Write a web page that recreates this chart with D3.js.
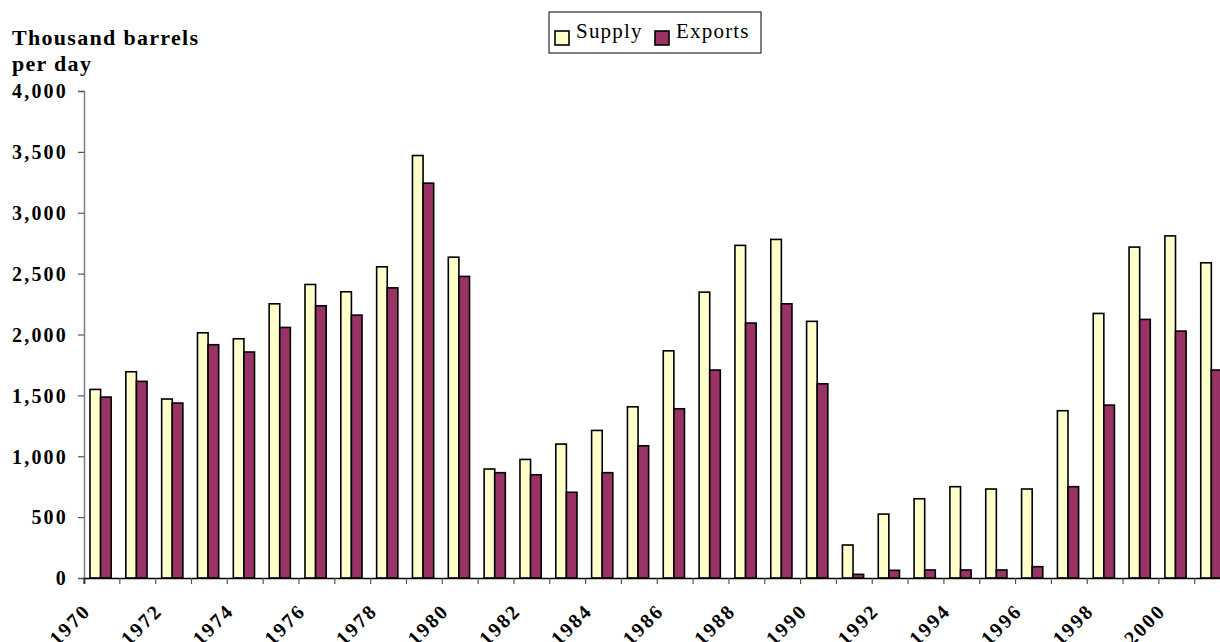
<!DOCTYPE html>
<html>
<head>
<meta charset="utf-8">
<script src="https://cdn.jsdelivr.net/npm/d3@7"></script>
<style>
  body { margin: 0; background: #fff; overflow: hidden; }
</style>
</head>
<body>
<script>
// thousand barrels per day
var years = d3.range(1970, 2002).map(String);
var supply = [1549, 1694, 1470, 2014, 1965, 2252, 2411, 2351, 2556, 3470,
              2635, 895, 974, 1100, 1212, 1406, 1866, 2348, 2732, 2781,
              2108, 271, 525, 651, 750, 731, 731, 1374, 2173, 2718,
              2810, 2589];
var exports = [1486, 1615, 1437, 1916, 1856, 2058, 2236, 2159, 2383, 3243,
               2477, 865, 848, 704, 865, 1086, 1390, 1708, 2094, 2252,
               1595, 30, 63, 66, 66, 66, 93, 750, 1420, 2124,
               2028, 1708];
var seriesNames = ["Supply", "Exports"];
var yTicks = d3.range(0, 4001, 500);

var colors = {Supply: "#FFFFCC", Exports: "#993366"};
var FONT = "'Liberation Serif', 'Times New Roman', Times, serif";

function lbl(sel, bold, size, ls) {
  sel.attr("font-family", FONT)
     .attr("font-weight", bold ? "bold" : "normal")
     .attr("font-size", size)
     .attr("letter-spacing", ls)
     .attr("fill", "#000");
}

var W = 1220, H = 642;
var margin = {top: 91, left: 84},
    height = 487,
    width = 32 * 35.83;

var svg = d3.select("body").append("svg")
    .attr("width", W)
    .attr("height", H);

var g = svg.append("g")
    .attr("transform", "translate(" + margin.left + "," + margin.top + ")");

var x = d3.scaleBand()
    .domain(years)
    .range([0, width])
    .padding(0);

var x1 = d3.scaleBand()
    .domain(seriesNames)
    .range([0, x.bandwidth()])
    .paddingInner(0)
    .paddingOuter(0.69)
    .align(0.41);

var y = d3.scaleLinear()
    .domain([0, 4000])
    .range([height, 0]);

var rows = years.map(function(yr, i) {
  return {year: yr, Supply: supply[i], Exports: exports[i]};
});

// bars
var groups = g.selectAll(".yr")
    .data(rows)
  .enter().append("g")
    .attr("class", "yr")
    .attr("transform", function(d) { return "translate(" + x(d.year) + ",0)"; });

groups.selectAll("rect")
    .data(function(d) { return seriesNames.map(function(k) { return {key: k, value: d[k]}; }); })
  .enter().append("rect")
    .attr("x", function(d) { return x1(d.key); })
    .attr("width", x1.bandwidth())
    .attr("y", function(d) { return y(d.value); })
    .attr("height", function(d) { return height - y(d.value); })
    .attr("fill", function(d) { return colors[d.key]; })
    .attr("stroke", "#000")
    .attr("stroke-width", 1.6);

// y axis
var yAxis = d3.axisLeft(y)
    .tickValues(yTicks)
    .tickSize(6)
    .tickPadding(10)
    .tickFormat(d3.format(","));

var yg = g.append("g").call(yAxis);
yg.select(".domain").attr("stroke", "#808080").attr("stroke-width", 1.5);
yg.selectAll(".tick line").attr("stroke", "#555").attr("stroke-width", 1.2);
yg.selectAll(".tick text")
    .call(lbl, true, 20, 2.2)
    .attr("dy", "0.34em");

// x axis, ticks between the categories
var xAxis = d3.axisBottom(x)
    .tickSize(6)
    .tickFormat(function(d) { return (+d % 2 === 0) ? d : ""; });

var xg = g.append("g")
    .attr("transform", "translate(0," + height + ")")
    .call(xAxis);
xg.select(".domain").attr("stroke", "#000").attr("stroke-width", 1.6);
xg.selectAll(".tick line")
    .attr("x1", -x.step() / 2)
    .attr("x2", -x.step() / 2)
    .attr("stroke", "#555")
    .attr("stroke-width", 1.2);
xg.selectAll(".tick text")
    .call(lbl, true, 20, 2.2)
    .attr("text-anchor", "end")
    .attr("x", 0)
    .attr("y", 0)
    .attr("dy", null)
    .attr("transform", "translate(-10,34) rotate(-45)");

// axis title
var title = svg.append("text")
    .call(lbl, true, 22, 1.3)
    .attr("x", 12)
    .attr("y", 45);
title.append("tspan").attr("x", 12).text("Thousand barrels");
title.append("tspan").attr("x", 12).attr("dy", 26).text("per day");

// legend
var legend = svg.append("g").attr("transform", "translate(549,12)");
legend.append("rect")
    .attr("width", 212)
    .attr("height", 41)
    .attr("fill", "#fff")
    .attr("stroke", "#000")
    .attr("stroke-width", 1);

var legendPos = {Supply: 6, Exports: 106};
var item = legend.selectAll(".item")
    .data(seriesNames)
  .enter().append("g")
    .attr("class", "item")
    .attr("transform", function(d) { return "translate(" + legendPos[d] + ",0)"; });
item.append("rect")
    .attr("y", 19)
    .attr("width", 14)
    .attr("height", 14)
    .attr("fill", function(d) { return colors[d]; })
    .attr("stroke", "#000")
    .attr("stroke-width", 1.6);
item.append("text")
    .call(lbl, false, 21, 1.2)
    .attr("x", 21)
    .attr("y", 26)
    .text(function(d) { return d; });
</script>
</body>
</html>
